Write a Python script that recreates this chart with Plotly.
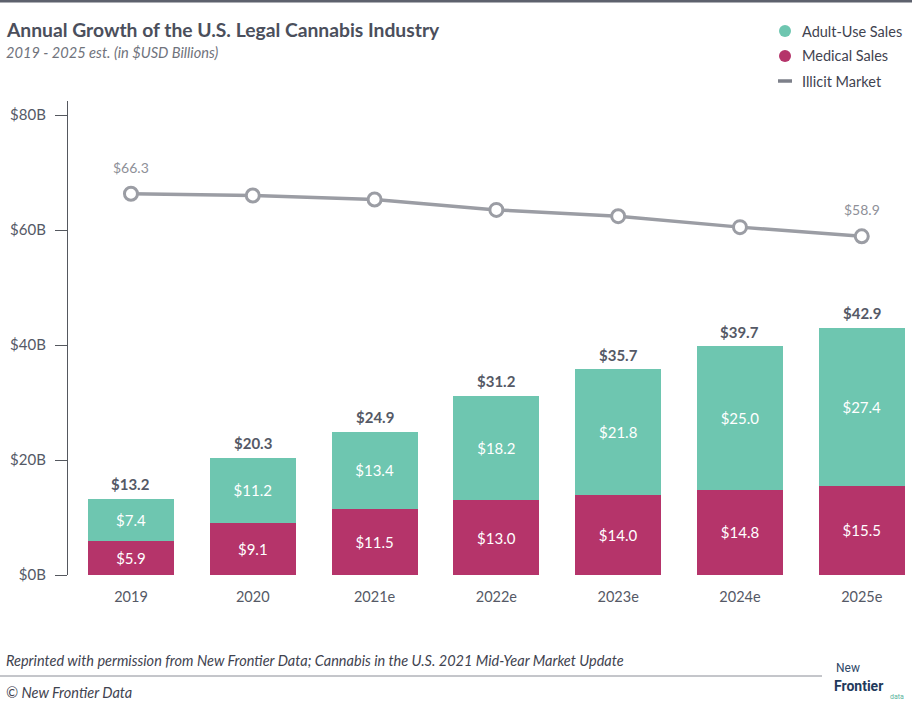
import plotly.graph_objects as go

years = ["2019", "2020", "2021e", "2022e", "2023e", "2024e", "2025e"]
adult_use = [7.4, 11.2, 13.4, 18.2, 21.8, 25.0, 27.4]
medical = [5.9, 9.1, 11.5, 13.0, 14.0, 14.8, 15.5]
totals = [13.2, 20.3, 24.9, 31.2, 35.7, 39.7, 42.9]
illicit = [66.3, 66.0, 65.3, 63.5, 62.4, 60.5, 58.9]
y_ticks = [0, 20, 40, 60, 80]
y_tick_labels = ["$0B", "$20B", "$40B", "$60B", "$80B"]

TEAL = "#6ec6b0"
MAGENTA = "#b5346a"
GRAY_LINE = "#9b9da4"
TEXT = "#555966"
FONT = "Lato"

W, H = 912, 702
L, R, T, B = 68, 2, 101, 127
PW, PH = W - L - R, H - T - B


def px(x):
    return (x - L) / PW


def py(y):
    return (H - B - y) / PH


fig = go.Figure()
fig.add_bar(x=years, y=medical, name="Medical Sales", marker_color=MAGENTA,
            marker_line_width=0, text=[f"${v:.1f}" for v in medical],
            textposition="inside", insidetextanchor="middle",
            textfont=dict(color="white", size=15, family=FONT), showlegend=False)
fig.add_bar(x=years, y=adult_use, name="Adult-Use Sales", marker_color=TEAL,
            marker_line_width=0, text=[f"${v:.1f}" for v in adult_use],
            textposition="inside", insidetextanchor="middle",
            textfont=dict(color="white", size=15, family=FONT), showlegend=False)
fig.add_scatter(x=years, y=illicit, mode="lines+markers", name="Illicit Market",
                line=dict(color=GRAY_LINE, width=3.5),
                marker=dict(size=13, color="white", line=dict(color=GRAY_LINE, width=3)),
                showlegend=False)

annotations = []
for i, t in enumerate(totals):
    annotations.append(dict(x=i, y=t, text=f"<b>${t:.1f}</b>", showarrow=False,
                            yanchor="bottom", yshift=4,
                            font=dict(size=15, color=TEXT, family=FONT)))
for i in (0, len(years) - 1):
    annotations.append(dict(x=i, y=illicit[i], text=f"${illicit[i]:.1f}",
                            showarrow=False, yanchor="bottom", yshift=16,
                            font=dict(size=14, color="#8e9098", family=FONT)))

# Title and subtitle
annotations.append(dict(xref="paper", yref="paper", x=px(4), y=py(29), xanchor="left",
                        yanchor="middle", showarrow=False,
                        text="<b>Annual Growth of the U.S. Legal Cannabis Industry</b>",
                        font=dict(size=19.3, color="#4b4f5c", family=FONT)))
annotations.append(dict(xref="paper", yref="paper", x=px(4), y=py(53), xanchor="left",
                        yanchor="middle", showarrow=False,
                        text="<i>2019 - 2025 est. (in $USD Billions)</i>",
                        font=dict(size=14.6, color="#70737c", family=FONT)))

# Legend (manual)
shapes = []
legend_items = [("Adult-Use Sales", TEAL, "circle", 31),
                ("Medical Sales", MAGENTA, "circle", 56),
                ("Illicit Market", GRAY_LINE, "line", 81)]
for name, col, kind, yy in legend_items:
    if kind == "circle":
        shapes.append(dict(type="circle", xref="paper", yref="paper",
                           x0=px(779), x1=px(791), y0=py(yy - 6), y1=py(yy + 6),
                           fillcolor=col, line=dict(width=0)))
    else:
        shapes.append(dict(type="line", xref="paper", yref="paper",
                           x0=px(778), x1=px(792), y0=py(yy), y1=py(yy),
                           line=dict(color="#7d808a", width=3.5)))
    annotations.append(dict(xref="paper", yref="paper", x=px(800), y=py(yy),
                            xanchor="left", yanchor="middle", showarrow=False,
                            text=name, font=dict(size=14.5, color="#3f4350", family=FONT)))

# Top rule and footer rule
shapes.append(dict(type="line", xref="paper", yref="paper", x0=px(0), x1=px(912),
                   y0=py(1), y1=py(1), line=dict(color="#5d616d", width=3)))
shapes.append(dict(type="line", xref="paper", yref="paper", x0=px(0), x1=px(822),
                   y0=py(676), y1=py(676), line=dict(color="#8a8d96", width=1)))

annotations.append(dict(xref="paper", yref="paper", x=px(4), y=py(660), xanchor="left",
                        yanchor="middle", showarrow=False,
                        text="<i>Reprinted with permission from New Frontier Data; Cannabis in the U.S. 2021 Mid-Year Market Update</i>",
                        font=dict(size=14.5, color="#3f4350", family=FONT)))
annotations.append(dict(xref="paper", yref="paper", x=px(4), y=py(692), xanchor="left",
                        yanchor="middle", showarrow=False,
                        text="<i>© New Frontier Data</i>",
                        font=dict(size=14.5, color="#3f4350", family=FONT)))
# Logo text
annotations.append(dict(xref="paper", yref="paper", x=px(834), y=py(668), xanchor="left",
                        yanchor="middle", showarrow=False, text="New",
                        font=dict(size=12, color="#2f4868", family="Roboto")))
annotations.append(dict(xref="paper", yref="paper", x=px(832), y=py(686), xanchor="left",
                        yanchor="middle", showarrow=False, text="<b>Frontier</b>",
                        font=dict(size=14, color="#1f3a5c", family="Roboto")))
annotations.append(dict(xref="paper", yref="paper", x=px(888), y=py(697), xanchor="left",
                        yanchor="middle", showarrow=False, text="data",
                        font=dict(size=7, color="#5ab39c", family="Roboto")))

fig.update_layout(
    width=W, height=H,
    margin=dict(l=L, r=R, t=T, b=B),
    barmode="stack", bargap=0.294,
    plot_bgcolor="white", paper_bgcolor="white",
    font=dict(family=FONT, color=TEXT, size=14),
    showlegend=False,
    annotations=annotations, shapes=shapes,
)
fig.update_xaxes(type="category", range=[-0.517, 6.396], showgrid=False, showline=False,
                 zeroline=False, ticks="", tickfont=dict(size=14.5, color=TEXT, family=FONT),
                 ticklabelstandoff=11)
fig.update_yaxes(range=[0, PH / 5.75], showgrid=False, zeroline=False, showline=True,
                 linecolor="#55585f", linewidth=1.2, ticks="outside", ticklen=12,
                 tickcolor="#55585f", tickwidth=1.2, tickvals=y_ticks,
                 ticktext=y_tick_labels, tickfont=dict(size=15, color=TEXT, family=FONT),
                 ticklabelstandoff=6)

fig.write_html("out.html")
